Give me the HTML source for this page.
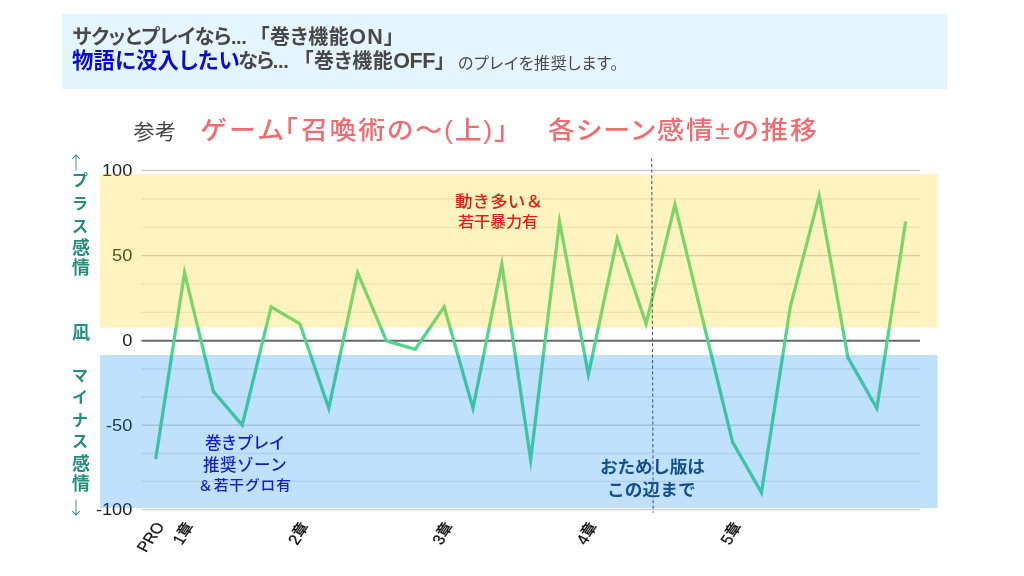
<!DOCTYPE html>
<html lang="ja"><head><meta charset="utf-8"><title>感情推移</title>
<style>
html,body{margin:0;padding:0;background:#fff;}
body{width:1024px;height:576px;position:relative;overflow:hidden;font-family:"Liberation Sans","Noto Sans CJK JP",sans-serif;}
.banner{position:absolute;left:62px;top:14.4px;width:885px;height:75.1px;background:#e4f5fe;}
.la{font-size:21.5px;letter-spacing:1.2px;}
.lb{font-size:21.5px;letter-spacing:-0.4px;}
.seg{position:absolute;white-space:nowrap;font-weight:700;color:#484848;font-feature-settings:"palt";line-height:28px;}
.tt{position:absolute;top:115.3px;white-space:nowrap;color:#f06c70;font-size:25px;font-weight:500;line-height:30px;transform:scaleX(1.08);transform-origin:0 0;}
.an{position:absolute;white-space:nowrap;line-height:24px;transform-origin:0 0;}
.tk{position:absolute;left:133.6px;top:118.1px;white-space:nowrap;color:#444;font-size:21px;line-height:28px;letter-spacing:0.3px;}
svg{position:absolute;left:0;top:0;}
.ax{font-family:"Liberation Sans","Noto Sans CJK JP",sans-serif;font-size:16px;fill:#222;}
.xl{fill:#111;font-size:14.5px;stroke:#111;stroke-width:0.25px;}
.zh{font-size:13.5px;font-weight:500;}
.vl{font-family:"Liberation Sans","Noto Sans CJK JP",sans-serif;font-size:18px;font-weight:700;fill:#228f7b;}
.vk{font-size:16px;}
.ar{font-family:"Noto Sans CJK JP","Liberation Sans",sans-serif;font-size:17.5px;font-weight:300;fill:#1f8c78;}
.t1{font-family:"Liberation Sans","Noto Sans CJK JP",sans-serif;font-size:21px;fill:#444;}
.t2{font-family:"Liberation Sans","Noto Sans CJK JP",sans-serif;font-size:26.67px;fill:#f0696b;font-weight:500;}
.n1{font-family:"Liberation Sans","Noto Sans CJK JP",sans-serif;font-size:15.5px;fill:#e01b10;font-weight:500;}
.n2{font-family:"Liberation Sans","Noto Sans CJK JP",sans-serif;font-size:16.5px;fill:#1428c8;font-weight:500;}
.n3{font-family:"Liberation Sans","Noto Sans CJK JP",sans-serif;font-size:17px;fill:#1d4f8f;font-weight:700;}
</style></head><body>
<div class="banner"></div>
<div class="seg" id="s1a" style="left:72.3px;top:22.5px;font-size:20px;letter-spacing:-0.45px;">サクッとプレイなら...</div>
<div class="seg" id="s1b" style="left:259.5px;top:22.5px;font-size:20px;letter-spacing:0.5px;">「巻き機能<span class="la">ON</span>」</div>
<div class="seg" id="s2a" style="left:72px;top:46.5px;font-size:21.4px;letter-spacing:0.15px;color:#0a0ad2;">物語に没入したい</div>
<div class="seg" id="s2b" style="left:238.3px;top:46.5px;font-size:20px;letter-spacing:-1.3px;">なら<span style="letter-spacing:-0.3px">...</span></div>
<div class="seg" id="s2c" style="left:303.5px;top:46.5px;font-size:20px;letter-spacing:0.5px;">「巻き機能<span class="lb">OFF</span>」</div>
<div class="seg" id="s2d" style="left:458px;top:50px;font-size:16px;font-weight:400;letter-spacing:0.6px;color:#4a4a4a;">のプレイを推奨します。</div>
<div class="tt" style="left:200px;letter-spacing:1.91px;">ゲーム</div>
<div class="tt" style="left:270.6px;letter-spacing:0px;">「</div>
<div class="tt" style="left:300.8px;letter-spacing:1.46px;">召喚術の～</div>
<div class="tt" style="left:444.3px;letter-spacing:1.54px;">(上)」</div>
<div class="tt" style="left:548.4px;letter-spacing:0.58px;">各シーン</div>
<div class="tt" style="left:657.2px;letter-spacing:1.9px;">感情±の推移</div>
<div class="tk">参考</div>
<svg width="1024" height="576" viewBox="0 0 1024 576">
<defs><linearGradient id="lg" gradientUnits="userSpaceOnUse" x1="0" y1="170" x2="0" y2="510">
<stop offset="0" stop-color="#62d455"/><stop offset="0.5" stop-color="#4fd48a"/><stop offset="1" stop-color="#2fb5a6"/></linearGradient></defs>
<g><line x1="141.5" x2="920" y1="481.38" y2="481.38" stroke="#e6e6e6" stroke-width="1.2"/><line x1="141.5" x2="920" y1="453.27" y2="453.27" stroke="#e6e6e6" stroke-width="1.2"/><line x1="141.5" x2="920" y1="397.03" y2="397.03" stroke="#e6e6e6" stroke-width="1.2"/><line x1="141.5" x2="920" y1="368.92" y2="368.92" stroke="#e6e6e6" stroke-width="1.2"/><line x1="141.5" x2="920" y1="312.42" y2="312.42" stroke="#e6e6e6" stroke-width="1.2"/><line x1="141.5" x2="920" y1="284.03" y2="284.03" stroke="#e6e6e6" stroke-width="1.2"/><line x1="141.5" x2="920" y1="227.27" y2="227.27" stroke="#e6e6e6" stroke-width="1.2"/><line x1="141.5" x2="920" y1="198.88" y2="198.88" stroke="#e6e6e6" stroke-width="1.2"/><line x1="141.5" x2="920" y1="170.50" y2="170.50" stroke="#cccccc" stroke-width="1.4"/><line x1="141.5" x2="920" y1="255.65" y2="255.65" stroke="#cccccc" stroke-width="1.4"/><line x1="141.5" x2="920" y1="425.15" y2="425.15" stroke="#cccccc" stroke-width="1.4"/><line x1="141.5" x2="920" y1="509.50" y2="509.50" stroke="#cccccc" stroke-width="1.4"/><line x1="141.5" x2="920" y1="340.80" y2="340.80" stroke="#686868" stroke-width="2.1"/></g>
<g><text transform="translate(132.4,176.10) scale(1.14,1)" text-anchor="end" class="ax">100</text><text transform="translate(132.4,261.25) scale(1.14,1)" text-anchor="end" class="ax">50</text><text transform="translate(132.4,346.40) scale(1.14,1)" text-anchor="end" class="ax">0</text><text transform="translate(132.4,430.75) scale(1.14,1)" text-anchor="end" class="ax">-50</text><text transform="translate(132.4,515.10) scale(1.14,1)" text-anchor="end" class="ax">-100</text></g>
<g><text transform="translate(165.00,526.2) scale(1.17,1) rotate(-59)" text-anchor="end" class="ax xl">PRO</text><text transform="translate(195.15,526.87) scale(1.17,1) rotate(-59)" text-anchor="end" class="ax xl">1<tspan class="zh" dx="0.6" dy="-1.3">章</tspan></text><text transform="translate(310.52,526.87) scale(1.17,1) rotate(-59)" text-anchor="end" class="ax xl">2<tspan class="zh" dx="0.6" dy="-1.3">章</tspan></text><text transform="translate(454.75,526.87) scale(1.17,1) rotate(-59)" text-anchor="end" class="ax xl">3<tspan class="zh" dx="0.6" dy="-1.3">章</tspan></text><text transform="translate(598.97,526.87) scale(1.17,1) rotate(-59)" text-anchor="end" class="ax xl">4<tspan class="zh" dx="0.6" dy="-1.3">章</tspan></text><text transform="translate(743.20,526.87) scale(1.17,1) rotate(-59)" text-anchor="end" class="ax xl">5<tspan class="zh" dx="0.6" dy="-1.3">章</tspan></text></g>
<polyline points="155.70,458.89 184.54,272.68 213.39,391.41 242.23,425.15 271.08,306.74 299.92,323.77 328.77,408.28 357.62,272.68 386.46,340.80 415.31,349.24 444.15,306.74 472.99,408.28 501.84,264.17 530.68,459.73 559.53,221.59 588.38,374.54 617.22,238.62 646.07,323.77 674.91,204.56 703.75,323.77 732.60,442.02 761.44,492.63 790.29,306.74 819.13,196.05 847.98,357.67 876.83,408.28 905.67,221.59" fill="none" stroke="#52d68e" stroke-width="3.3" stroke-linejoin="miter" stroke-miterlimit="20"/>
<rect x="100" y="174.2" width="837.5" height="153.4" fill="#ffd200" fill-opacity="0.25"/>
<rect x="100" y="355" width="837.6" height="153" fill="#0087f3" fill-opacity="0.25"/>
<text x="76" y="168.7" text-anchor="middle" class="ar">↑</text>
<text x="76" y="514.2" text-anchor="middle" class="ar">↓</text>
<g><text x="80" y="185.6" text-anchor="middle" class="vl vk">プ</text><text x="80" y="209.0" text-anchor="middle" class="vl vk">ラ</text><text x="80" y="232.4" text-anchor="middle" class="vl vk">ス</text><text x="81" y="254.0" text-anchor="middle" class="vl">感</text><text x="81" y="274.0" text-anchor="middle" class="vl">情</text><text x="81" y="338.9" text-anchor="middle" class="vl">凪</text><text x="80" y="381.3" text-anchor="middle" class="vl vk">マ</text><text x="80" y="402.8" text-anchor="middle" class="vl vk">イ</text><text x="80" y="425.9" text-anchor="middle" class="vl vk">ナ</text><text x="80" y="446.5" text-anchor="middle" class="vl vk">ス</text><text x="81" y="469.5" text-anchor="middle" class="vl">感</text><text x="81" y="489.6" text-anchor="middle" class="vl">情</text></g>
</svg>
<div class="an" style="left:455.4px;top:188.9px;color:#e01e14;font-size:16.3px;font-weight:500;letter-spacing:0.02px;transform:scaleX(1.08);">動き多い＆</div>
<div class="an" style="left:458.4px;top:209.8px;color:#e01e14;font-size:15px;font-weight:500;letter-spacing:-0.16px;transform:scaleX(1.08);">若干暴力有</div>
<div class="an" style="left:204.9px;top:431.25px;color:#141ec8;font-size:16.5px;font-weight:500;letter-spacing:-0.52px;transform:scaleX(1.0);">巻きプレイ</div>
<div class="an" style="left:203.1px;top:453px;color:#141ec8;font-size:16.5px;font-weight:500;letter-spacing:0.48px;transform:scaleX(1.0);">推奨ゾーン</div>
<div class="an" style="left:197.8px;top:473.3px;color:#141ec8;font-size:14px;font-weight:500;letter-spacing:0.91px;transform:scaleX(1.05);">＆若干グロ有</div>
<div class="an" style="left:599.8px;top:456.35px;color:#14508c;font-size:17px;font-weight:700;letter-spacing:-0.23px;transform:scaleX(1.04);">おためし版は</div>
<div class="an" style="left:607.3px;top:478.5px;color:#14508c;font-size:17px;font-weight:700;letter-spacing:0.09px;transform:scaleX(1.04);">この辺まで</div>
<svg width="1024" height="576" viewBox="0 0 1024 576"><line x1="651.7" x2="653.2" y1="158.4" y2="512.8" stroke="#3f5c7c" stroke-width="1.05" stroke-dasharray="3.2 2.4"/></svg>
</body></html>
